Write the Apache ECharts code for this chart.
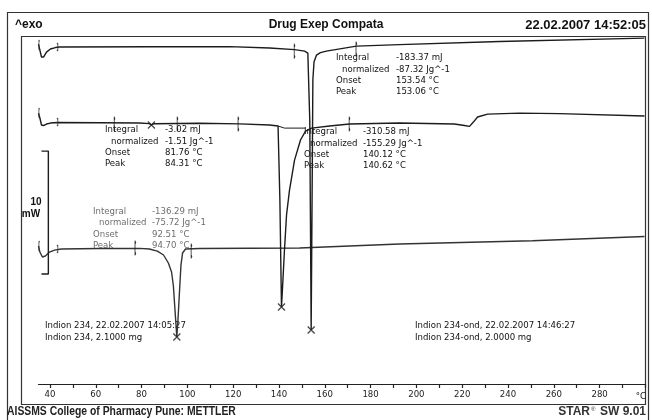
<!DOCTYPE html>
<html>
<head>
<meta charset="utf-8">
<script src="https://cdn.jsdelivr.net/npm/echarts@6/dist/echarts.min.js"></script>
<style>
  html, body { margin: 0; padding: 0; background: #fff; }
  #chart { width: 652px; height: 420px; }
</style>
</head>
<body>
<div id="chart"></div>
<script>
// curves: temperature (°C) / heat flow (mW, offset per curve)
const topT = [35.0, 35.6, 36.3, 37.2, 38.5, 40.2, 42.4, 44.1, 83.4, 118.4, 135.9, 146.8, 151.2, 152.6, 153.45, 154.06, 154.3, 154.6, 154.8, 155.3, 156.4, 158.1, 160.7, 173.8, 192.6, 236.3, 299.6];
const topMw = [27.64, 27.15, 26.59, 26.59, 26.99, 27.24, 27.36, 27.40, 27.42, 27.44, 27.32, 27.19, 27.07, 26.91, 21.46, 4.39, 10.89, 19.02, 24.72, 26.18, 26.75, 26.95, 27.07, 27.48, 27.60, 27.85, 28.13];

const midT = [35.0, 35.6, 36.3, 37.2, 38.5, 40.2, 43.3, 61.6, 79.1, 83.4, 84.3, 85.6, 105.3, 122.8, 135.9, 139.6, 140.4, 141.1, 141.5, 142.4, 143.3, 144.6, 146.8, 149.4, 151.6, 154.2, 162.1, 170.8, 192.6, 216.6, 221.0, 223.2, 224.9, 226.7, 231.1, 245.0, 262.5, 299.6];
const midMw = [22.03, 21.63, 21.06, 21.02, 21.14, 21.22, 21.26, 21.25, 21.22, 21.17, 21.08, 21.17, 21.20, 21.15, 21.06, 20.98, 14.96, 6.26, 7.64, 10.89, 13.74, 15.77, 18.21, 19.84, 20.57, 20.81, 20.98, 21.14, 21.22, 21.14, 21.02, 20.95, 21.30, 21.71, 21.95, 22.03, 21.99, 21.79];

const botT = [35.0, 35.6, 36.7, 38.0, 39.8, 42.0, 45.0, 61.6, 79.1, 83.4, 86.9, 89.6, 91.7, 93.1, 93.9, 94.6, 95.4, 95.9, 96.6, 97.2, 97.9, 99.2, 105.3, 149.0, 192.6, 250.7, 299.6];
const botMw = [11.22, 10.73, 10.33, 10.41, 10.73, 10.89, 10.98, 11.02, 11.03, 10.98, 10.81, 10.49, 9.84, 9.11, 7.97, 6.02, 3.82, 5.20, 7.64, 9.67, 10.65, 10.98, 11.02, 11.06, 11.38, 11.65, 11.99];

// integration baseline under the 140 °C peak
const baseT = [139.6, 142.4, 151.6];
const baseMw = [20.98, 20.81, 20.81];

// peak markers (x) and integration limit flags
const peakT = [84.3, 141.1, 154.06, 95.4];
const peakMw = [21.06, 6.26, 4.39, 3.82];
const flagT = [146.8, 173.8, 68.2, 95.7, 122.3, 170.8, 77.3, 101.8];
const flagMw = [27.07, 27.24, 21.14, 21.14, 21.14, 21.14, 11.06, 10.81];
const startT = [35.3, 35.3, 35.3];
const startMw = [27.56, 22.03, 11.22];
const endT = [43.3, 43.3, 43.3];
const endMw = [27.40, 21.30, 10.98];

// 10 mW scale bar
const scaleT = [36.3, 39.3, 39.3, 36.3];
const scaleMw = [18.94, 18.94, 8.94, 8.94];

// axis
const tickValues = [40, 50, 60, 70, 80, 90, 100, 110, 120, 130, 140, 150, 160, 170, 180, 190, 200, 210, 220, 230, 240, 250, 260, 270, 280, 290, 300];
const labelValues = [40, 60, 80, 100, 120, 140, 160, 180, 200, 220, 240, 260, 280];

// peak evaluation tables
const evalLabels = ['Integral', '  normalized', 'Onset', 'Peak'];
const evalTop = ['-183.37 mJ', '-87.32 Jg^-1', '153.54 °C', '153.06 °C'];
const evalMidSmall = ['-3.02 mJ', '-1.51 Jg^-1', '81.76 °C', '84.31 °C'];
const evalMidBig = ['-310.58 mJ', '-155.29 Jg^-1', '140.12 °C', '140.62 °C'];
const evalBot = ['-136.29 mJ', '-75.72 Jg^-1', '92.51 °C', '94.70 °C'];
const sampleLeft = ['Indion 234, 22.02.2007 14:05:27', 'Indion 234, 2.1000 mg'];
const sampleRight = ['Indion 234-ond, 22.02.2007 14:46:27', 'Indion 234-ond, 2.0000 mg'];

const zip = (a, b) => a.map((v, i) => [v, b[i]]);
const smallFont = '"DejaVu Sans Condensed", "Liberation Sans", sans-serif';
const ink = '#1c1c1c';

function txt(text, x, y, opt, el) {
  return Object.assign({
    type: 'text', silent: true,
    style: Object.assign({
      text: text, x: x, y: y, fill: '#111', fontSize: 9.5, fontFamily: smallFont,
      verticalAlign: 'middle', align: 'left'
    }, opt || {})
  }, el || {});
}

function evalBlock(x, xv, y, values, color) {
  const out = [];
  evalLabels.forEach((l, i) => {
    const indent = l.startsWith(' ') ? 6 : 0;
    out.push(txt(l.trim(), x + indent, y + i * 11.3, { fill: color }));
    out.push(txt(values[i], xv, y + i * 11.3, { fill: color }));
  });
  return out;
}

const chart = echarts.init(document.getElementById('chart'));

const headFont = '"Liberation Sans", Arial, sans-serif';
const graphics = [
  { type: 'rect', silent: true, shape: { x: 7.5, y: 12.5, width: 641, height: 420 }, style: { fill: 'none', stroke: '#333', lineWidth: 1.2 } },
  { type: 'rect', silent: true, shape: { x: 21.5, y: 36.5, width: 624, height: 368 }, style: { fill: 'none', stroke: '#333', lineWidth: 1.2 } },
  txt('^exo', 15, 25, { fontFamily: headFont, fontSize: 12, fontWeight: 'bold' }),
  txt('Drug Exep Compata', 326, 25, { fontFamily: headFont, fontSize: 12, fontWeight: 'bold', align: 'center' }),
  txt('22.02.2007 14:52:05', 646, 25, { fontFamily: headFont, fontSize: 13, fontWeight: 'bold', align: 'right' }),
  txt('10', 36, 202, { fontFamily: headFont, fontSize: 10, fontWeight: 'bold', align: 'center' }),
  txt('mW', 31, 214, { fontFamily: headFont, fontSize: 10, fontWeight: 'bold', align: 'center' }),
  txt('°C', 646, 397, { fontSize: 9.5, align: 'right' }),
  txt('AISSMS College of Pharmacy Pune: METTLER', 0, 0,
    { fontFamily: headFont, fontSize: 12.5, fontWeight: 'bold', fill: '#222' },
    { x: 7, y: 412, scaleX: 0.83 }),
  txt('STAR', 590, 412, { fontFamily: headFont, fontSize: 12, fontWeight: 'bold', fill: '#333', align: 'right' }),
  txt('®', 591, 409, { fontFamily: headFont, fontSize: 6, fill: '#333' }),
  txt('SW 9.01', 646, 412, { fontFamily: headFont, fontSize: 12, fontWeight: 'bold', fill: '#333', align: 'right' })
]
  .concat(evalBlock(336, 396, 58, evalTop, '#111'))
  .concat(evalBlock(105, 165, 130, evalMidSmall, '#111'))
  .concat(evalBlock(304, 363, 132, evalMidBig, '#111'))
  .concat(evalBlock(93, 152, 211.5, evalBot, '#6e6e6e'))
  .concat(sampleLeft.map((s, i) => txt(s, 45, 326 + i * 12)))
  .concat(sampleRight.map((s, i) => txt(s, 415, 326 + i * 12)));

const curveStyle = { color: ink, width: 1.4 };

chart.setOption({
  animation: false,
  backgroundColor: '#fff',
  grid: { left: 38.5, right: 6.6, top: 36, bottom: 36, containLabel: false },
  xAxis: {
    type: 'value', min: 35, max: 300,
    splitLine: { show: false },
    axisLine: { show: true, onZero: false, lineStyle: { color: '#222', width: 1.2 } },
    axisTick: { show: true, length: 4, customValues: tickValues, lineStyle: { color: '#222', width: 1.2 } },
    axisLabel: { customValues: labelValues, color: '#222', fontSize: 9.5, fontFamily: smallFont, margin: 6 }
  },
  yAxis: { type: 'value', min: 0, max: 28.3, show: false },
  series: [
    { name: 'Indion 234', type: 'line', data: zip(topT, topMw), showSymbol: false, lineStyle: curveStyle, z: 3 },
    { name: 'Indion 234-ond', type: 'line', data: zip(midT, midMw), showSymbol: false, lineStyle: curveStyle, z: 3 },
    { name: 'Excipient', type: 'line', data: zip(botT, botMw), showSymbol: false, lineStyle: { color: '#333', width: 1.4 }, z: 2 },
    { name: 'baseline', type: 'line', data: zip(baseT, baseMw), showSymbol: false, lineStyle: { color: ink, width: 1 } },
    { name: 'scale', type: 'line', data: zip(scaleT, scaleMw), showSymbol: false, clip: false, lineStyle: { color: ink, width: 1.4 } },
    {
      name: 'peaks', type: 'scatter', data: zip(peakT, peakMw), symbol: 'path://M0,0L10,10M10,0L0,10',
      symbolSize: 7, itemStyle: { color: 'none', borderColor: ink, borderWidth: 1.3 }, z: 5
    },
    {
      name: 'limits', type: 'scatter', data: zip(flagT, flagMw), symbolKeepAspect: true,
      symbol: 'path://M0,0h1.4v14h-1.4z M1.4,0l2.6,1.6l-2.6,1.6z M1.4,10.8l2.6,1.6l-2.6,1.6z',
      symbolSize: [4, 14], itemStyle: { color: ink, borderColor: ink, borderWidth: 0.6 }, z: 5
    },
    {
      name: 'start', type: 'scatter', data: zip(startT, startMw), clip: false, symbolKeepAspect: true,
      symbol: 'path://M0,0h3v1.2h-1.8v7.6h1.8v1.2h-3z', symbolSize: [3, 10], itemStyle: { color: '#333', borderColor: '#333', borderWidth: 0.3 }, z: 5
    },
    {
      name: 'end', type: 'scatter', data: zip(endT, endMw), symbolKeepAspect: true,
      symbol: 'path://M0,0h3v8h-3v-1.2h1.8v-5.6h-1.8z', symbolSize: [3, 8], itemStyle: { color: '#333', borderColor: '#333', borderWidth: 0.3 }, z: 5
    }
  ],
  graphic: graphics
});
</script>
</body>
</html>
